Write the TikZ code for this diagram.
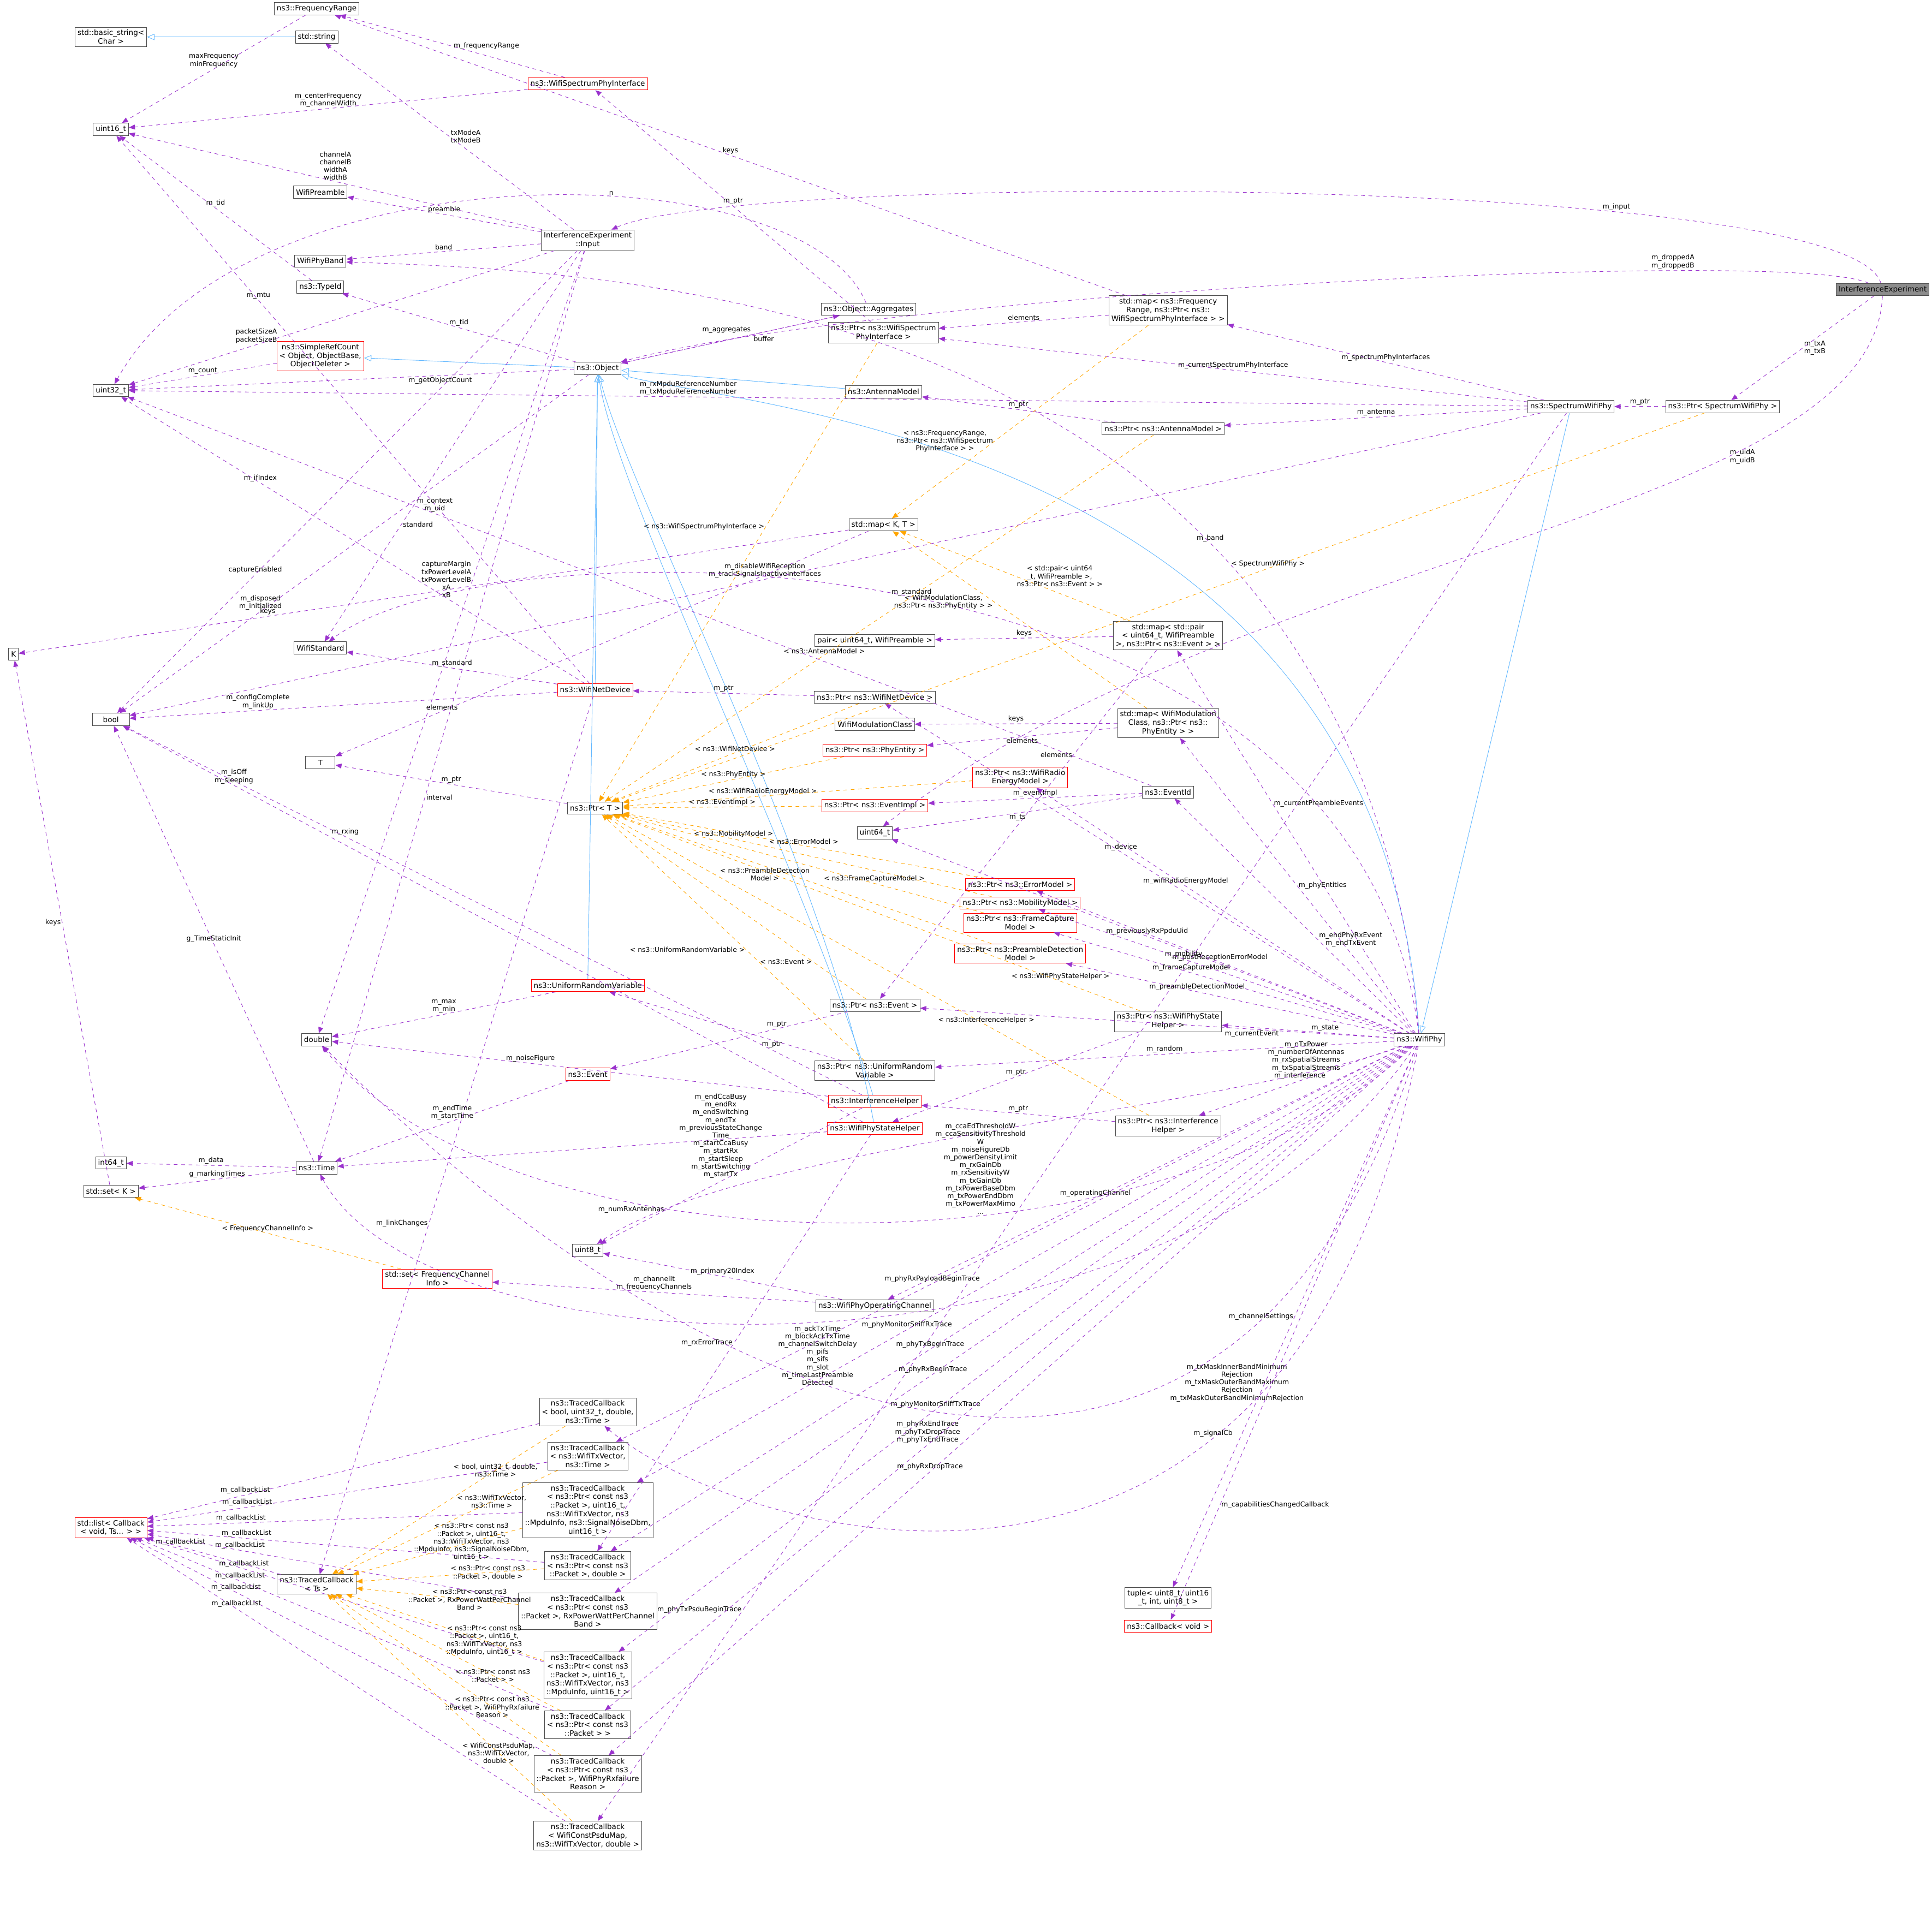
\documentclass[tikz,border=0pt]{standalone}
\usepackage{fontspec}
\setmainfont{DejaVu Sans}
\usetikzlibrary{arrows.meta}
\definecolor{usecol}{HTML}{9A32CD}
\definecolor{tplcol}{HTML}{FFA500}
\definecolor{inhcol}{HTML}{63B8FF}
\tikzset{
  box/.style={draw=black!70,fill=white,font=\fontsize{6}{7}\selectfont,align=center,inner sep=2pt,minimum height=10pt},
  redbox/.style={box,draw=red},
  graybox/.style={box,fill=black!45},
  use/.style={draw=usecol,dashed,-{Triangle[length=5pt,width=4pt]}},
  tmpl/.style={draw=tplcol,dashed,-{Triangle[length=5pt,width=4pt]}},
  inh/.style={draw=inhcol,-{Triangle[open,length=6pt,width=5pt]}},
  lbl/.style={font=\fontsize{5.5}{6.3}\selectfont,align=center,inner sep=1pt,text=black}
}
\begin{document}
\begin{tikzpicture}[x=1pt,y=-1pt]
\useasboundingbox (0,0) rectangle (1568,1552);

% the classes
\node[graybox] (ie) at (1528,235) {InterferenceExperiment};
\node[box] (freqrange) at (257,7) {ns3::FrequencyRange};
\node[box] (bstring) at (90,30) {std::basic\_string<\\Char >};
\node[box] (stdstring) at (257,30) {std::string};
\node[box] (uinta) at (90,105) {uint16\_t};
\node[redbox] (wspi) at (477,68) {ns3::WifiSpectrumPhyInterface};
\node[box] (preamble) at (260,156) {WifiPreamble};
\node[box] (input) at (477,195) {InterferenceExperiment\\::Input};
\node[box] (phyband) at (260,212) {WifiPhyBand};
\node[box] (typeid) at (260,233) {ns3::TypeId};
\node[redbox] (refcount) at (260,289) {ns3::SimpleRefCount\\< Object, ObjectBase,\\ObjectDeleter >};
\node[box] (uintb) at (90,317) {uint32\_t};
\node[box] (object) at (485,299) {ns3::Object};
\node[box] (aggr) at (705,251) {ns3::Object::Aggregates};
\node[box] (ptrwspi) at (717,270) {ns3::Ptr< ns3::WifiSpectrum\\PhyInterface >};
\node[box] (mapfr) at (948,252) {std::map< ns3::Frequency\\Range, ns3::Ptr< ns3::\\WifiSpectrumPhyInterface > >};
\node[box] (antenna) at (717,318) {ns3::AntennaModel};
\node[box] (ptrant) at (944,348) {ns3::Ptr< ns3::AntennaModel >};
\node[box] (swphy) at (1275,330) {ns3::SpectrumWifiPhy};
\node[box] (ptrswphy) at (1398,330) {ns3::Ptr< SpectrumWifiPhy >};
\node[box] (kk) at (11,531) {K};
\node[box,minimum width=30pt] (bool) at (90,584) {bool};
\node[box] (mapkt) at (717,426) {std::map< K, T >};
\node[box] (wstd) at (260,526) {WifiStandard};
\node[box] (pairp) at (710,520) {pair< uint64\_t, WifiPreamble >};
\node[box] (mappair) at (948,516) {std::map< std::pair\\< uint64\_t, WifiPreamble\\ >, ns3::Ptr< ns3::Event > >};
\node[redbox] (netdev) at (483,560) {ns3::WifiNetDevice};
\node[box] (ptrnd) at (710,566) {ns3::Ptr< ns3::WifiNetDevice >};
\node[box] (wmc) at (710,588) {WifiModulationClass};
\node[redbox] (ptrpe) at (710,609) {ns3::Ptr< ns3::PhyEntity >};
\node[box] (mapwmc) at (948,587) {std::map< WifiModulation\\Class, ns3::Ptr< ns3::\\PhyEntity > >};
\node[box,minimum width=24pt] (tt) at (260,619) {T};
\node[box] (ptrt) at (483,656) {ns3::Ptr< T >};
\node[redbox] (ptrrem) at (828,631) {ns3::Ptr< ns3::WifiRadio\\EnergyModel >};
\node[redbox] (ptrei) at (710,654) {ns3::Ptr< ns3::EventImpl >};
\node[box] (eventid) at (948,643) {ns3::EventId};
\node[box] (uintc) at (710,676) {uint64\_t};
\node[redbox] (ptrerr) at (828,718) {ns3::Ptr< ns3::ErrorModel >};
\node[redbox] (ptrmob) at (828,733) {ns3::Ptr< ns3::MobilityModel >};
\node[redbox] (ptrfcm) at (828,749) {ns3::Ptr< ns3::FrameCapture\\Model >};
\node[redbox] (ptrpdm) at (828,774) {ns3::Ptr< ns3::PreambleDetection\\Model >};
\node[redbox] (urv) at (477,800) {ns3::UniformRandomVariable};
\node[box] (dbl) at (257,844) {double};
\node[box] (ptrev) at (710,816) {ns3::Ptr< ns3::Event >};
\node[box] (ptrsh) at (948,829) {ns3::Ptr< ns3::WifiPhyState\\Helper >};
\node[box] (wifiphy) at (1152,844) {ns3::WifiPhy};
\node[box] (ptrurv) at (710,869) {ns3::Ptr< ns3::UniformRandom\\Variable >};
\node[redbox] (event) at (477,872) {ns3::Event};
\node[redbox] (ih) at (710,894) {ns3::InterferenceHelper};
\node[redbox] (sh) at (710,916) {ns3::WifiPhyStateHelper};
\node[box] (ptrih) at (948,914) {ns3::Ptr< ns3::Interference\\Helper >};
\node[box] (int64) at (90,944) {int64\_t};
\node[box] (time) at (257,948) {ns3::Time};
\node[box] (setk) at (90,967) {std::set< K >};
\node[box] (uintd) at (477,1015) {uint8\_t};
\node[redbox] (setfci) at (355,1038) {std::set< FrequencyChannel\\Info >};
\node[box] (opch) at (710,1060) {ns3::WifiPhyOperatingChannel};
\node[box] (tca) at (477,1146) {ns3::TracedCallback\\< bool, uint32\_t, double,\\ ns3::Time >};
\node[box] (tcb) at (477,1182) {ns3::TracedCallback\\< ns3::WifiTxVector,\\ ns3::Time >};
\node[redbox] (cblist) at (90,1240) {std::list< Callback\\< void, Ts... > >};
\node[box] (tcc) at (477,1226) {ns3::TracedCallback\\< ns3::Ptr< const ns3\\::Packet >, uint16\_t,\\ ns3::WifiTxVector, ns3\\::MpduInfo, ns3::SignalNoiseDbm,\\ uint16\_t >};
\node[box] (tcts) at (257,1286) {ns3::TracedCallback\\< Ts >};
\node[box] (tcd) at (477,1271) {ns3::TracedCallback\\< ns3::Ptr< const ns3\\::Packet >, double >};
\node[box] (tce) at (477,1308) {ns3::TracedCallback\\< ns3::Ptr< const ns3\\::Packet >, RxPowerWattPerChannel\\Band >};
\node[box] (tuple) at (948,1297) {tuple< uint8\_t, uint16\\\_t, int, uint8\_t >};
\node[redbox] (cbvoid) at (948,1320) {ns3::Callback< void >};
\node[box] (tcf) at (477,1360) {ns3::TracedCallback\\< ns3::Ptr< const ns3\\::Packet >, uint16\_t,\\ ns3::WifiTxVector, ns3\\::MpduInfo, uint16\_t >};
\node[box] (tcg) at (477,1400) {ns3::TracedCallback\\< ns3::Ptr< const ns3\\::Packet > >};
\node[box] (tch) at (477,1440) {ns3::TracedCallback\\< ns3::Ptr< const ns3\\::Packet >, WifiPhyRxfailure\\Reason >};
\node[box] (tci) at (477,1490) {ns3::TracedCallback\\< WifiConstPsduMap,\\ ns3::WifiTxVector, double >};

% inheritance
\draw[inh] (stdstring) -- (bstring);
\draw[inh] (object) -- (refcount);
\draw[inh] (antenna) -- (object);
\draw[inh] (swphy) -- (wifiphy);
\draw[inh] (wifiphy) .. controls (1120,360) and (600,330) .. (object);
\draw[inh] (netdev) -- (object);
\draw[inh] (urv) -- (object);
\draw[inh] (ih) .. controls (650,700) and (500,400) .. (object);
\draw[inh] (sh) .. controls (670,700) and (510,400) .. (object);

% members
\draw[use] (ie) .. controls (1500,140) and (600,140) .. node[lbl,above,pos=0.3]{m\_input} (input);
\draw[use] (ie) .. controls (1450,200) and (700,240) .. node[lbl,above,pos=0.25]{m\_droppedA\\m\_droppedB} (object);
\draw[use] (ie) -- node[lbl,right]{m\_txA\\m\_txB} (ptrswphy);
\draw[use] (ie) .. controls (1520,420) and (1000,450) .. node[lbl,right,pos=0.3]{m\_uidA\\m\_uidB} (uintc);
\draw[use] (input) -- node[lbl,above]{channelA\\channelB\\widthA\\widthB} (uinta);
\draw[use] (input) -- node[lbl,right]{txModeA\\txModeB} (stdstring);
\draw[use] (input) -- node[lbl,above]{preamble} (preamble);
\draw[use] (input) -- node[lbl,above,pos=0.7]{packetSizeA\\packetSizeB} (uintb);
\draw[use] (input) -- node[lbl,above]{band} (phyband);
\draw[use] (input) -- node[lbl,above,pos=0.7]{captureEnabled} (bool);
\draw[use] (input) -- node[lbl,right,pos=0.7]{standard} (wstd);
\draw[use] (input) -- node[lbl,left,pos=0.42]{captureMargin\\txPowerLevelA\\txPowerLevelB\\xA\\xB} (dbl);
\draw[use] (input) -- node[lbl,right,pos=0.6]{interval} (time);
\draw[use] (wspi) -- node[lbl,right]{m\_frequencyRange} (freqrange);
\draw[use] (wspi) -- node[lbl,above]{m\_centerFrequency\\m\_channelWidth} (uinta);
\draw[use] (freqrange) -- node[lbl,above]{maxFrequency\\minFrequency} (uinta);
\draw[use] (typeid) -- node[lbl,above]{m\_tid} (uinta);
\draw[use] (refcount) -- node[lbl,above]{m\_count} (uintb);
\draw[use] (object) -- node[lbl,above]{m\_tid} (typeid);
\draw[use] (object) -- node[lbl,above left,pos=0.6]{m\_aggregates} (aggr);
\draw[use] (object) -- node[lbl,below,pos=0.3]{m\_getObjectCount} (uintb);
\draw[use] (object) -- node[lbl,above,pos=0.7]{m\_disposed\\m\_initialized} (bool);
\draw[use] (aggr) -- node[lbl,below right,pos=0.4]{buffer} (object);
\draw[use] (aggr) .. controls (650,120) and (200,120) .. node[lbl,above,pos=0.4]{n} (uintb);
\draw[use] (ptrwspi) -- node[lbl,above]{m\_ptr} (wspi);
\draw[use] (mapfr) -- node[lbl,above]{elements} (ptrwspi);
\draw[use] (mapfr) -- node[lbl,above]{keys} (freqrange);
\draw[use] (ptrant) -- node[lbl,above]{m\_ptr} (antenna);
\draw[use] (swphy) -- node[lbl,above]{m\_spectrumPhyInterfaces} (mapfr);
\draw[use] (swphy) -- node[lbl,above]{m\_currentSpectrumPhyInterface} (ptrwspi);
\draw[use] (swphy) -- node[lbl,above]{m\_antenna} (ptrant);
\draw[use] (swphy) -- node[lbl,above,pos=0.55]{m\_disableWifiReception\\m\_trackSignalsInactiveInterfaces} (bool);
\draw[use] (swphy) -- node[lbl,above,pos=0.6]{m\_rxMpduReferenceNumber\\m\_txMpduReferenceNumber} (uintb);
\draw[use] (swphy) -- node[lbl,left,pos=0.85]{m\_phyTxPsduBeginTrace} (tci);
\draw[use] (ptrswphy) -- node[lbl,above]{m\_ptr} (swphy);
\draw[use] (mapkt) -- node[lbl,above,pos=0.7]{keys} (kk);
\draw[use] (mapkt) -- node[lbl,above,pos=0.8]{elements} (tt);
\draw[use] (netdev) -- node[lbl,above]{m\_standard} (wstd);
\draw[use] (netdev) -- node[lbl,above,pos=0.7]{m\_ifIndex} (uintb);
\draw[use] (netdev) -- node[lbl,above,pos=0.7]{m\_mtu} (uinta);
\draw[use] (netdev) -- node[lbl,above,pos=0.7]{m\_configComplete\\m\_linkUp} (bool);
\draw[use] (netdev) -- node[lbl,left,pos=0.6]{m\_linkChanges} (tcts);
\draw[use] (ptrnd) -- node[lbl,above]{m\_ptr} (netdev);
\draw[use] (mappair) -- node[lbl,above]{keys} (pairp);
\draw[use] (mappair) -- node[lbl,left,pos=0.3]{elements} (ptrev);
\draw[use] (mapwmc) -- node[lbl,above]{keys} (wmc);
\draw[use] (mapwmc) -- node[lbl,below]{elements} (ptrpe);
\draw[use] (ptrt) -- node[lbl,above]{m\_ptr} (tt);
\draw[use] (eventid) -- node[lbl,above]{m\_eventImpl} (ptrei);
\draw[use] (eventid) -- node[lbl,below]{m\_ts} (uintc);
\draw[use] (eventid) -- node[lbl,above,pos=0.7]{m\_context\\m\_uid} (uintb);
\draw[use] (urv) -- node[lbl,above]{m\_max\\m\_min} (dbl);
\draw[use] (ptrev) -- node[lbl,above,pos=0.3]{m\_ptr} (event);
\draw[use] (event) -- node[lbl,above]{m\_endTime\\m\_startTime} (time);
\draw[use] (ptrurv) -- node[lbl,below,pos=0.3]{m\_ptr} (urv);
\draw[use] (ih) -- node[lbl,above,pos=0.6]{m\_noiseFigure} (dbl);
\draw[use] (ih) -- node[lbl,above,pos=0.7]{m\_rxing} (bool);
\draw[use] (ih) -- node[lbl,left,pos=0.75]{m\_numRxAntennas} (uintd);
\draw[use] (sh) -- node[lbl,above,pos=0.85]{m\_isOff\\m\_sleeping} (bool);
\draw[use] (sh) -- node[lbl,left=4pt,pos=0.12]{m\_endCcaBusy\\m\_endRx\\m\_endSwitching\\m\_endTx\\m\_previousStateChange\\Time\\m\_startCcaBusy\\m\_startRx\\m\_startSleep\\m\_startSwitching\\m\_startTx} (time);
\draw[use] (sh) -- node[lbl,left,pos=0.5]{m\_rxErrorTrace} (tcd);
\draw[use] (ptrsh) -- node[lbl,above]{m\_ptr} (sh);
\draw[use] (ptrih) -- node[lbl,above]{m\_ptr} (ih);
\draw[use] (time) -- node[lbl,above]{m\_data} (int64);
\draw[use] (time) -- node[lbl,above]{g\_markingTimes} (setk);
\draw[use] (time) -- node[lbl,above]{g\_TimeStaticInit} (bool);
\draw[use] (setk) -- node[lbl,left]{keys} (kk);
\draw[use] (opch) -- node[lbl,above]{m\_channelIt\\m\_frequencyChannels} (setfci);
\draw[use] (opch) -- node[lbl,above]{m\_primary20Index} (uintd);
\foreach \tc in {tca,tcb,tcc,tcd,tce,tcf,tcg,tch,tci,tcts}
  \draw[use] (\tc) -- node[lbl,above,pos=0.75]{m\_callbackList} (cblist);

% members of ns3::WifiPhy
\draw[use] (wifiphy) .. controls (1100,240) and (500,220) .. node[lbl,above,pos=0.3]{m\_band} (phyband);
\draw[use] (wifiphy) .. controls (1100,420) and (400,420) .. node[lbl,above,pos=0.5]{m\_standard} (wstd);
\draw[use] (wifiphy) -- node[lbl,above,pos=0.55]{m\_device} (ptrnd);
\draw[use] (wifiphy) -- node[lbl,right,pos=0.6]{m\_currentPreambleEvents} (mappair);
\draw[use] (wifiphy) -- node[lbl,right,pos=0.5]{m\_phyEntities} (mapwmc);
\draw[use] (wifiphy) -- node[lbl,above,pos=0.6]{m\_wifiRadioEnergyModel} (ptrrem);
\draw[use] (wifiphy) -- node[lbl,right,pos=0.4]{m\_endPhyRxEvent\\m\_endTxEvent} (eventid);
\draw[use] (wifiphy) -- node[lbl,above,pos=0.5]{m\_previouslyRxPpduUid} (uintc);
\draw[use] (wifiphy) -- node[lbl,above,pos=0.5]{m\_postReceptionErrorModel} (ptrerr);
\draw[use] (wifiphy) -- node[lbl,above,pos=0.6]{m\_mobility} (ptrmob);
\draw[use] (wifiphy) -- node[lbl,above,pos=0.6]{m\_frameCaptureModel} (ptrfcm);
\draw[use] (wifiphy) -- node[lbl,above,pos=0.6]{m\_preambleDetectionModel} (ptrpdm);
\draw[use] (wifiphy) -- node[lbl,above,pos=0.4]{m\_state} (ptrsh);
\draw[use] (wifiphy) -- node[lbl,below,pos=0.3]{m\_currentEvent} (ptrev);
\draw[use] (wifiphy) -- node[lbl,above,pos=0.5]{m\_random} (ptrurv);
\draw[use] (wifiphy) -- node[lbl,above,pos=0.5]{m\_interference} (ptrih);
\draw[use] (wifiphy) .. controls (1000,900) and (600,930) .. node[lbl,above,pos=0.15]{m\_nTxPower\\m\_numberOfAntennas\\m\_rxSpatialStreams\\m\_txSpatialStreams} (uintd);
\draw[use] (wifiphy) .. controls (950,1040) and (420,1040) .. node[lbl,above,pos=0.4]{m\_ccaEdThresholdW\\m\_ccaSensitivityThreshold\\W\\m\_noiseFigureDb\\m\_powerDensityLimit\\m\_rxGainDb\\m\_rxSensitivityW\\m\_txGainDb\\m\_txPowerBaseDbm\\m\_txPowerEndDbm\\m\_txPowerMaxMimo\\...} (dbl);
\draw[use] (wifiphy) -- node[lbl,above,pos=0.6]{m\_operatingChannel} (opch);
\draw[use] (wifiphy) .. controls (950,1140) and (350,1120) .. node[lbl,below=2pt,pos=0.5]{m\_ackTxTime\\m\_blockAckTxTime\\m\_channelSwitchDelay\\m\_pifs\\m\_sifs\\m\_slot\\m\_timeLastPreamble\\Detected} (time);
\draw[use] (wifiphy) .. controls (1000,1340) and (560,1150) .. node[lbl,right,pos=0.3]{m\_txMaskInnerBandMinimum\\Rejection\\m\_txMaskOuterBandMaximum\\Rejection\\m\_txMaskOuterBandMinimumRejection} (dbl);
\draw[use] (wifiphy) -- node[lbl,above,pos=0.6]{m\_phyRxPayloadBeginTrace} (tcb);
\draw[use] (wifiphy) -- node[lbl,above,pos=0.65]{m\_phyMonitorSniffRxTrace} (tcc);
\draw[use] (wifiphy) -- node[lbl,above,pos=0.6]{m\_phyTxBeginTrace} (tcd);
\draw[use] (wifiphy) -- node[lbl,above,pos=0.6]{m\_phyRxBeginTrace} (tce);
\draw[use] (wifiphy) -- node[lbl,above,pos=0.6]{m\_phyMonitorSniffTxTrace} (tcf);
\draw[use] (wifiphy) -- node[lbl,above,pos=0.6]{m\_phyRxEndTrace\\m\_phyTxDropTrace\\m\_phyTxEndTrace} (tcg);
\draw[use] (wifiphy) -- node[lbl,above,pos=0.6]{m\_phyRxDropTrace} (tch);
\draw[use] (wifiphy) -- node[lbl,left]{m\_channelSettings} (tuple);
\draw[use] (wifiphy) -- node[lbl,right,pos=0.8]{m\_capabilitiesChangedCallback} (cbvoid);
\draw[use] (wifiphy) .. controls (1050,1380) and (600,1250) .. node[lbl,above,pos=0.3]{m\_signalCb} (tca);

% template instances
\draw[tmpl] (ptrwspi) -- node[lbl,left,pos=0.4]{< ns3::WifiSpectrumPhyInterface >} (ptrt);
\draw[tmpl] (ptrant) -- node[lbl,above,pos=0.6]{< ns3::AntennaModel >} (ptrt);
\draw[tmpl] (ptrswphy) -- node[lbl,above,pos=0.4]{< SpectrumWifiPhy >} (ptrt);
\draw[tmpl] (ptrnd) -- node[lbl,above]{< ns3::WifiNetDevice >} (ptrt);
\draw[tmpl] (ptrpe) -- node[lbl,above]{< ns3::PhyEntity >} (ptrt);
\draw[tmpl] (ptrrem) -- node[lbl,above,pos=0.6]{< ns3::WifiRadioEnergyModel >} (ptrt);
\draw[tmpl] (ptrei) -- node[lbl,above]{< ns3::EventImpl >} (ptrt);
\draw[tmpl] (ptrerr) -- node[lbl,above,pos=0.5]{< ns3::ErrorModel >} (ptrt);
\draw[tmpl] (ptrmob) -- node[lbl,above,pos=0.7]{< ns3::MobilityModel >} (ptrt);
\draw[tmpl] (ptrfcm) -- node[lbl,above,pos=0.3]{< ns3::FrameCaptureModel >} (ptrt);
\draw[tmpl] (ptrpdm) -- node[lbl,below,pos=0.6]{< ns3::PreambleDetection\\Model >} (ptrt);
\draw[tmpl] (ptrev) -- node[lbl,left,pos=0.2]{< ns3::Event >} (ptrt);
\draw[tmpl] (ptrurv) -- node[lbl,left,pos=0.45]{< ns3::UniformRandomVariable >} (ptrt);
\draw[tmpl] (ptrsh) -- node[lbl,above,pos=0.15]{< ns3::WifiPhyStateHelper >} (ptrt);
\draw[tmpl] (ptrih) -- node[lbl,above,pos=0.3]{< ns3::InterferenceHelper >} (ptrt);
\draw[tmpl] (mapfr) -- node[lbl,left,pos=0.6]{< ns3::FrequencyRange,\\ns3::Ptr< ns3::WifiSpectrum\\PhyInterface > >} (mapkt);
\draw[tmpl] (mappair) -- node[lbl,right,pos=0.5]{< std::pair< uint64\\\_t, WifiPreamble >,\\ ns3::Ptr< ns3::Event > >} (mapkt);
\draw[tmpl] (mapwmc) -- node[lbl,left,pos=0.6]{< WifiModulationClass,\\ ns3::Ptr< ns3::PhyEntity > >} (mapkt);
\draw[tmpl] (setfci) -- node[lbl,above]{< FrequencyChannelInfo >} (setk);
\draw[tmpl] (tca) -- node[lbl,pos=0.3]{< bool, uint32\_t, double,\\ns3::Time >} (tcts);
\draw[tmpl] (tcb) -- node[lbl,pos=0.3]{< ns3::WifiTxVector,\\ns3::Time >} (tcts);
\draw[tmpl] (tcc) -- node[lbl,pos=0.3]{< ns3::Ptr< const ns3\\::Packet >, uint16\_t,\\ns3::WifiTxVector, ns3\\::MpduInfo, ns3::SignalNoiseDbm,\\uint16\_t >} (tcts);
\draw[tmpl] (tcd) -- node[lbl,pos=0.3]{< ns3::Ptr< const ns3\\::Packet >, double >} (tcts);
\draw[tmpl] (tce) -- node[lbl,pos=0.3]{< ns3::Ptr< const ns3\\::Packet >, RxPowerWattPerChannel\\Band >} (tcts);
\draw[tmpl] (tcf) -- node[lbl,pos=0.3]{< ns3::Ptr< const ns3\\::Packet >, uint16\_t,\\ns3::WifiTxVector, ns3\\::MpduInfo, uint16\_t >} (tcts);
\draw[tmpl] (tcg) -- node[lbl,pos=0.3]{< ns3::Ptr< const ns3\\::Packet > >} (tcts);
\draw[tmpl] (tch) -- node[lbl,pos=0.3]{< ns3::Ptr< const ns3\\::Packet >, WifiPhyRxfailure\\Reason >} (tcts);
\draw[tmpl] (tci) -- node[lbl,pos=0.3]{< WifiConstPsduMap,\\ns3::WifiTxVector,\\double >} (tcts);
\end{tikzpicture}
\end{document}
